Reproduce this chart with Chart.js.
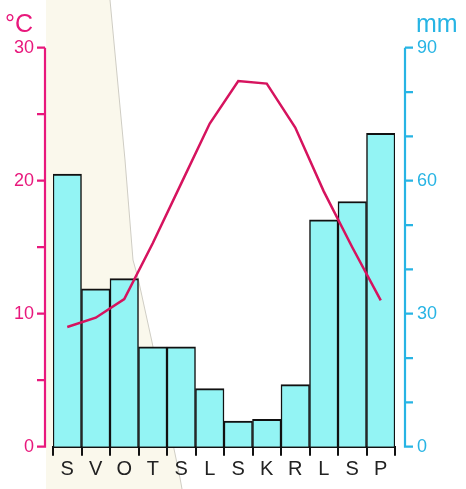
<!DOCTYPE html>
<html>
<head>
<meta charset="utf-8">
<script src="https://cdn.jsdelivr.net/npm/chart.js@4/dist/chart.umd.min.js"></script>
<style>
  body { margin: 0; background: #fff; }
  #wrap { width: 466px; height: 489px; position: relative; }
</style>
</head>
<body>
<div id="wrap"><canvas id="climate"></canvas></div>
<script>
// mjeseci (Croatian month initials)
const months = ['S', 'V', 'O', 'T', 'S', 'L', 'S', 'K', 'R', 'L', 'S', 'P'];
// temperatura u °C
const temperature = [9.0, 9.7, 11.1, 15.3, 19.8, 24.3, 27.5, 27.3, 24.0, 19.2, 15.0, 11.0];
// oborine u mm
const precipitation = [61.5, 35.6, 37.9, 22.5, 22.5, 13.1, 5.8, 6.2, 14.0, 51.2, 55.3, 70.7];
// tick labels
const tempTicks = [0, 10, 20, 30];
const rainTicks = [0, 30, 60, 90];

const pink = '#e8187c';
const cyan = '#27b4e4';
const font = 'Liberation Sans, Arial, sans-serif';

// beige background band (edge of the old map, just decoration)
const bandEdge = [[110, 0], [125, 160], [133, 260], [138, 278], [152, 342], [180, 478], [182, 489]];

const decor = {
    id: 'decor',
    beforeDraw(chart) {
        const c = chart.ctx;
        c.save();
        c.fillStyle = '#faf8ec';
        c.beginPath();
        c.moveTo(46, 0);
        bandEdge.forEach(p => c.lineTo(p[0], p[1]));
        c.lineTo(46, 489);
        c.closePath();
        c.fill();
        c.strokeStyle = '#cfcdc4';
        c.lineWidth = 1;
        c.beginPath();
        bandEdge.forEach((p, i) => i ? c.lineTo(p[0], p[1]) : c.moveTo(p[0], p[1]));
        c.stroke();
        c.restore();
    },
    afterDraw(chart) {
        const c = chart.ctx;
        const a = chart.chartArea;
        const y = chart.scales.y;
        const y2 = chart.scales.y2;
        c.save();
        c.lineWidth = 2.2;

        // lijeva os (°C)
        const lx = a.left - 8;
        c.strokeStyle = pink;
        c.beginPath();
        c.moveTo(lx, y.getPixelForValue(0) + 1);
        c.lineTo(lx, y.getPixelForValue(30));
        for (let v = 0; v <= 30; v += 5) {
            const py = y.getPixelForValue(v);
            c.moveTo(lx, py);
            c.lineTo(lx - 8, py);
        }
        c.stroke();

        // desna os (mm)
        const rx = a.right + 10;
        c.strokeStyle = cyan;
        c.beginPath();
        c.moveTo(rx, y2.getPixelForValue(0) + 1);
        c.lineTo(rx, y2.getPixelForValue(90));
        for (let v = 0; v <= 90; v += 10) {
            const py = y2.getPixelForValue(v);
            c.moveTo(rx, py);
            c.lineTo(rx + 8, py);
        }
        c.stroke();

        // jedinice
        c.font = '25px ' + font;
        c.textBaseline = 'alphabetic';
        c.fillStyle = pink;
        c.textAlign = 'left';
        c.fillText('°C', 5, 32);
        c.fillStyle = cyan;
        c.fillText('mm', 416, 32);
        c.restore();
    }
};

const ctx = document.getElementById('climate');
new Chart(ctx, {
    type: 'bar',
    data: {
        labels: months,
        datasets: [{
            type: 'line',
            label: 'Temperatura',
            data: temperature,
            yAxisID: 'y',
            borderColor: '#d6135e',
            borderWidth: 2.5,
            pointRadius: 0,
            tension: 0,
            fill: false,
            order: 0
        }, {
            type: 'bar',
            label: 'Oborine',
            data: precipitation,
            yAxisID: 'y2',
            backgroundColor: '#93f4f4',
            borderColor: '#111',
            borderWidth: { top: 2, left: 1.5, right: 1.5, bottom: 0 },
            borderSkipped: false,
            barPercentage: 1,
            categoryPercentage: 1,
            order: 1
        }]
    },
    options: {
        responsive: true,
        maintainAspectRatio: false,
        animation: false,
        layout: { padding: { top: 47.7, left: 0, right: 0, bottom: 0 } },
        plugins: {
            legend: { display: false },
            tooltip: { enabled: false },
            title: { display: false }
        },
        scales: {
            x: {
                afterFit: s => { s.height = 42.3; },
                grid: { drawOnChartArea: false, offset: true, tickLength: 9, color: '#111', lineWidth: 2 },
                border: { color: '#111', width: 2 },
                ticks: { color: '#222', padding: 2, font: { family: font, size: 20 } }
            },
            y: {
                position: 'left',
                min: 0,
                max: 30,
                afterFit: s => { s.width = 53; },
                afterBuildTicks: s => { s.ticks = tempTicks.map(v => ({ value: v })); },
                grid: { display: false, drawTicks: false },
                border: { display: false },
                ticks: { color: pink, padding: 19, font: { family: font, size: 18 } }
            },
            y2: {
                position: 'right',
                min: 0,
                max: 90,
                afterFit: s => { s.width = 71; },
                afterBuildTicks: s => { s.ticks = rainTicks.map(v => ({ value: v })); },
                grid: { display: false, drawTicks: false },
                border: { display: false },
                ticks: { color: cyan, padding: 22, font: { family: font, size: 18 } }
            }
        }
    },
    plugins: [decor]
});
</script>
</body>
</html>
